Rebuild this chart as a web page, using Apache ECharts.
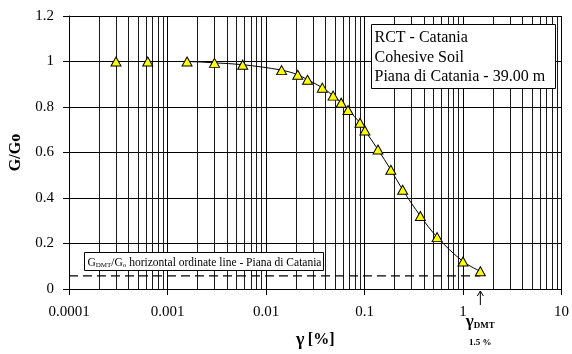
<!DOCTYPE html>
<html>
<head>
<meta charset="utf-8">
<script src="https://cdn.jsdelivr.net/npm/echarts@6/dist/echarts.min.js"></script>
<style>
  html, body { margin: 0; padding: 0; background: #fff; }
  #chart { width: 572px; height: 354px; }
</style>
</head>
<body>
<div id="chart"></div>
<script>
// Shear strain γ [%] of the resonant column test points
const shearStrain = [0.0003, 0.00063, 0.00158, 0.003, 0.0058, 0.0144, 0.021, 0.0264, 0.0373, 0.048,
  0.058, 0.068, 0.09, 0.101, 0.137, 0.185, 0.244, 0.369, 0.546, 1.0, 1.5];
// Normalised shear modulus G/Go at each strain
const modulusRatio = [1.0, 1.0, 1.0, 0.994, 0.986, 0.962, 0.942, 0.92, 0.885, 0.85,
  0.819, 0.787, 0.731, 0.697, 0.613, 0.524, 0.436, 0.321, 0.228, 0.121, 0.078];

// GDMT/Go ordinate and the strain where it meets the curve
const dmtRatio = 0.058;
const dmtStrain = 1.5;

// Axis ticks
const xDecades = [0.0001, 0.001, 0.01, 0.1, 1, 10];
const xMinorSteps = [2, 3, 4, 5, 6, 7, 8, 9];
const yTicks = [0, 0.2, 0.4, 0.6, 0.8, 1, 1.2];

const infoLines = ['RCT - Catania', 'Cohesive Soil', 'Piana di Catania - 39.00 m'];

const serif = '"Liberation Serif", "Times New Roman", serif';

// minor vertical grid lines inside each decade
const minorValues = [];
for (let i = 0; i < xDecades.length - 1; i++) {
  xMinorSteps.forEach(m => minorValues.push(xDecades[i] * m));
}

const chart = echarts.init(document.getElementById('chart'), null, { renderer: 'canvas' });

const option = {
  animation: false,
  backgroundColor: '#fff',
  grid: { left: 64, right: 9, top: 16, bottom: 64, show: false },
  xAxis: {
    type: 'log',
    logBase: 10,
    min: xDecades[0],
    max: xDecades[xDecades.length - 1],
    axisLine: { show: true, onZero: false, lineStyle: { color: '#000', width: 1 } },
    axisTick: { show: true, length: 6, lineStyle: { color: '#000' } },
    axisLabel: {
      margin: 16, color: '#000', fontFamily: serif, fontSize: 15,
      formatter: v => String(+(+v).toPrecision(6))
    },
    splitLine: { show: true, lineStyle: { color: '#000', width: 1 } },
    name: '{g|γ} {t|[%]}',
    nameLocation: 'middle',
    nameGap: 42,
    nameTextStyle: {
      rich: {
        g: { fontFamily: serif, fontWeight: 'bold', fontSize: 18, color: '#000' },
        t: { fontFamily: serif, fontWeight: 'bold', fontSize: 16, color: '#000' }
      }
    }
  },
  yAxis: {
    type: 'value',
    min: yTicks[0],
    max: yTicks[yTicks.length - 1],
    interval: 0.2,
    axisLine: { show: true, lineStyle: { color: '#000', width: 1 } },
    axisTick: { show: true, length: 6, lineStyle: { color: '#000' } },
    axisLabel: { margin: 15, color: '#000', fontFamily: serif, fontSize: 15 },
    splitLine: { show: true, lineStyle: { color: '#000', width: 1 } },
    name: 'G/Go',
    nameLocation: 'middle',
    nameGap: 45,
    nameTextStyle: { fontFamily: serif, fontWeight: 'bold', fontSize: 16, color: '#000' }
  },
  series: [
    {
      // minor log grid
      type: 'custom',
      data: minorValues,
      silent: true,
      z: 1,
      renderItem: (params, api) => {
        const v = api.value(0);
        const p0 = api.coord([v, yTicks[0]]);
        const p1 = api.coord([v, yTicks[yTicks.length - 1]]);
        const x = Math.round(p0[0]) + 0.5;
        return {
          type: 'line',
          shape: { x1: x, y1: p0[1], x2: x, y2: p1[1] },
          style: { stroke: '#1a1a1a', lineWidth: 1 }
        };
      },
      encode: { x: 0 }
    },
    {
      // GDMT/Go horizontal ordinate line
      type: 'line',
      data: [[xDecades[0], dmtRatio], [dmtStrain, dmtRatio]],
      symbol: 'none',
      silent: true,
      z: 3,
      lineStyle: { color: '#000', width: 1.3, type: [9, 5] }
    },
    {
      type: 'line',
      data: shearStrain.map((x, i) => [x, modulusRatio[i]]),
      smooth: 0.35,
      z: 5,
      symbol: 'triangle',
      symbolSize: [10, 9],
      lineStyle: { color: '#000', width: 1 },
      itemStyle: { color: '#ffff00', borderColor: '#000', borderWidth: 1 }
    }
  ]
};

chart.setOption(option);

// annotations positioned from the axis scales
const dmtPx = chart.convertToPixel({ gridIndex: 0 }, [dmtStrain, 0]);
const infoText = infoLines.join('\n');

chart.setOption({
  graphic: [
    {
      type: 'group',
      left: 371, top: 24, z: 100,
      children: [
        { type: 'rect', shape: { x: 0, y: 0, width: 184, height: 64 }, z: 100,
          style: { fill: '#fff', stroke: '#000', lineWidth: 1 } },
        { type: 'text', x: 3, y: 4, z: 101,
          style: { text: infoText, font: '16px ' + serif, lineHeight: 19.5, fill: '#000' } }
      ]
    },
    {
      type: 'group',
      left: 84, top: 252, z: 100,
      children: [
        { type: 'rect', shape: { x: 0, y: 0, width: 239, height: 18 }, z: 100,
          style: { fill: '#fff', stroke: '#000', lineWidth: 1 } },
        { type: 'text', x: 3, y: 3, z: 101,
          style: {
            text: '{n|G}{s|DMT}{n|/G}{s|o}{n| horizontal ordinate line - Piana di Catania}',
            rich: {
              n: { fontFamily: serif, fontSize: 11.5, color: '#000', lineHeight: 13, verticalAlign: 'bottom' },
              s: { fontFamily: serif, fontSize: 7, color: '#000', lineHeight: 9, verticalAlign: 'bottom', padding: [3, 0, 0, 0] }
            }
          } }
      ]
    },
    {
      type: 'line', z: 100,
      shape: { x1: dmtPx[0], y1: dmtPx[1] + 3, x2: dmtPx[0], y2: dmtPx[1] + 16 },
      style: { stroke: '#000', lineWidth: 1 }
    },
    {
      type: 'polyline', z: 100,
      shape: { points: [[dmtPx[0] - 3, dmtPx[1] + 7], [dmtPx[0], dmtPx[1] + 2], [dmtPx[0] + 3, dmtPx[1] + 7]] },
      style: { stroke: '#000', lineWidth: 1, fill: null }
    },
    {
      type: 'text', z: 100,
      x: dmtPx[0], y: dmtPx[1] + 33,
      style: {
        text: '{g|γ}{s|DMT}',
        align: 'center', verticalAlign: 'middle',
        rich: {
          g: { fontFamily: serif, fontWeight: 'bold', fontSize: 17, color: '#000', verticalAlign: 'bottom' },
          s: { fontFamily: serif, fontWeight: 'bold', fontSize: 9, color: '#000', verticalAlign: 'bottom', padding: [4, 0, 0, 0] }
        }
      }
    },
    {
      type: 'text', z: 100,
      x: dmtPx[0], y: dmtPx[1] + 54,
      style: { text: '1.5 %', font: 'bold 9px ' + serif, fill: '#000', align: 'center', verticalAlign: 'middle' }
    }
  ]
});
</script>
</body>
</html>
